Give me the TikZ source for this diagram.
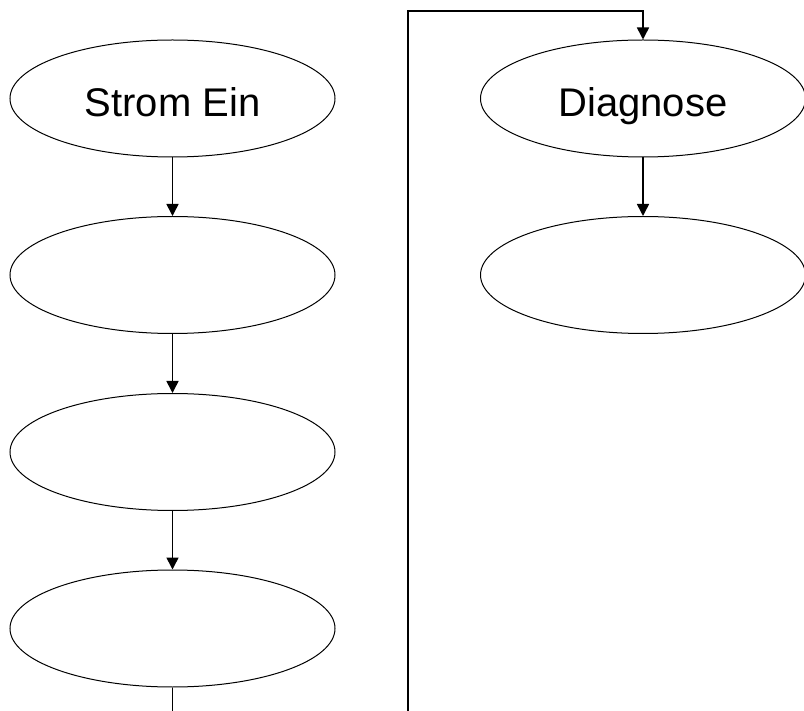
\documentclass[tikz,border=0pt]{standalone}
\usepackage{fontspec}
\setmainfont{Liberation Sans}
\usetikzlibrary{shapes.geometric,arrows.meta}
\begin{document}
\begin{tikzpicture}[x=1pt,y=-1pt,
  stadium/.style={draw=black,ellipse,line width=1pt,minimum width=325pt,minimum height=117pt,inner sep=0pt,text height=38pt,text depth=2pt,font=\fontsize{40}{44}\selectfont},
  conn/.style={draw=black,line width=1.6pt,-{Triangle[length=12pt,width=12pt]}},
  plainconn/.style={draw=black,line width=1.6pt}]
\useasboundingbox (0,0) rectangle (804,711);
\node[stadium] (s1) at (172.5,98.5) {Strom Ein};
\node[stadium] (s2) at (172.5,275) {};
\node[stadium] (s3) at (172.5,452) {};
\node[stadium] (s4) at (172.5,628.5) {};
\node[stadium] (d1) at (643,98.5) {Diagnose};
\node[stadium] (d2) at (643,275) {};
\coordinate (c0) at (408,712);
\coordinate (c1) at (408,11);
\coordinate (c2) at (643,11);
\coordinate (b0) at (172.5,712);
\draw[conn] (s1) -- (s2);
\draw[conn] (s2) -- (s3);
\draw[conn] (s3) -- (s4);
\draw[conn] (d1) -- (d2);
\draw[plainconn] (s4) -- (b0);
\draw[conn] (c0) -- (c1) -- (c2) -- (d1.north);
\end{tikzpicture}
\end{document}
